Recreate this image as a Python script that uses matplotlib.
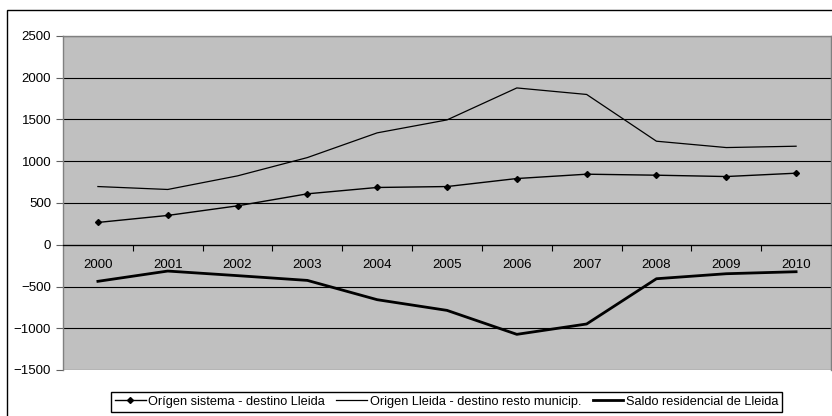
import matplotlib.pyplot as plt
import matplotlib.patches as patches
import numpy as np

plt.rcParams['font.family'] = ['Liberation Sans', 'DejaVu Sans']

# datos
years = ['2000', '2001', '2002', '2003', '2004', '2005', '2006', '2007', '2008', '2009', '2010']
origen_sistema = [267, 351, 466, 610, 686, 697, 793, 845, 833, 817, 857]
origen_lleida = [697, 662, 825, 1044, 1340, 1495, 1878, 1800, 1240, 1164, 1180]
saldo = [-438, -315, -370, -427, -658, -786, -1073, -949, -407, -347, -323]
labels = ['Orígen sistema - destino Lleida', 'Origen Lleida - destino resto municip.',
          'Saldo residencial de Lleida']
yticks = [-1500, -1000, -500, 0, 500, 1000, 1500, 2000, 2500]

W, H = 832, 416
fig = plt.figure(figsize=(W / 100, H / 100), dpi=100)
ax = fig.add_axes([63 / W, (H - 370) / H, 768 / W, 334 / H])
ax.set_facecolor('#C0C0C0')

x = np.arange(len(years))
l1, = ax.plot(x, origen_sistema, color='black', lw=1, marker='D', markersize=3)
l2, = ax.plot(x, origen_lleida, color='black', lw=0.9)
l3, = ax.plot(x, saldo, color='black', lw=2)

ax.set_xlim(-0.5, len(years) - 0.5)
ax.set_ylim(yticks[0], yticks[-1])
ax.set_yticks(yticks)
ax.yaxis.grid(True, color='black', lw=0.8)
ax.set_axisbelow(True)
ax.tick_params(axis='y', direction='out', length=5, width=0.8, color='#606060',
               labelsize=9.5, pad=3.5)

# eje de categorias sobre el cero
ax.spines['bottom'].set_position(('data', 0))
ax.spines['bottom'].set_color('black')
ax.spines['bottom'].set_linewidth(0.9)
ax.set_xticks(x[:-1] + 0.5)
ax.set_xticklabels([])
ax.set_xticks(x, minor=True)
ax.set_xticklabels(years, minor=True)
ax.tick_params(axis='x', which='major', direction='out', length=4, width=0.8)
ax.tick_params(axis='x', which='minor', length=0, labelsize=9.5, pad=10)
for s in ['left', 'top', 'right']:
    ax.spines[s].set_color('#808080')
    ax.spines[s].set_linewidth(1)

ax.legend([l1, l2, l3], labels, ncol=3, loc='upper center',
          bbox_to_anchor=(446.5 / W, (H - 392) / H), bbox_transform=fig.transFigure,
          frameon=True, fancybox=False, edgecolor='black', framealpha=1,
          fontsize=9.2, handlelength=2.4, handletextpad=0.2, columnspacing=0.9,
          borderpad=0.3, borderaxespad=0)

# titulo recortado en la parte superior (solo se ven los parentesis)
fig.text(516 / W, (H + 4) / H, '(2000 - 2010)', ha='center', va='baseline', fontsize=14)

# marco exterior del grafico
fig.patches.append(patches.Rectangle((7 / W, -0.1), 1.2, (H - 10) / H + 0.1,
                                     transform=fig.transFigure, fill=False,
                                     edgecolor='black', lw=1))

fig.savefig('out.png', dpi=100)
